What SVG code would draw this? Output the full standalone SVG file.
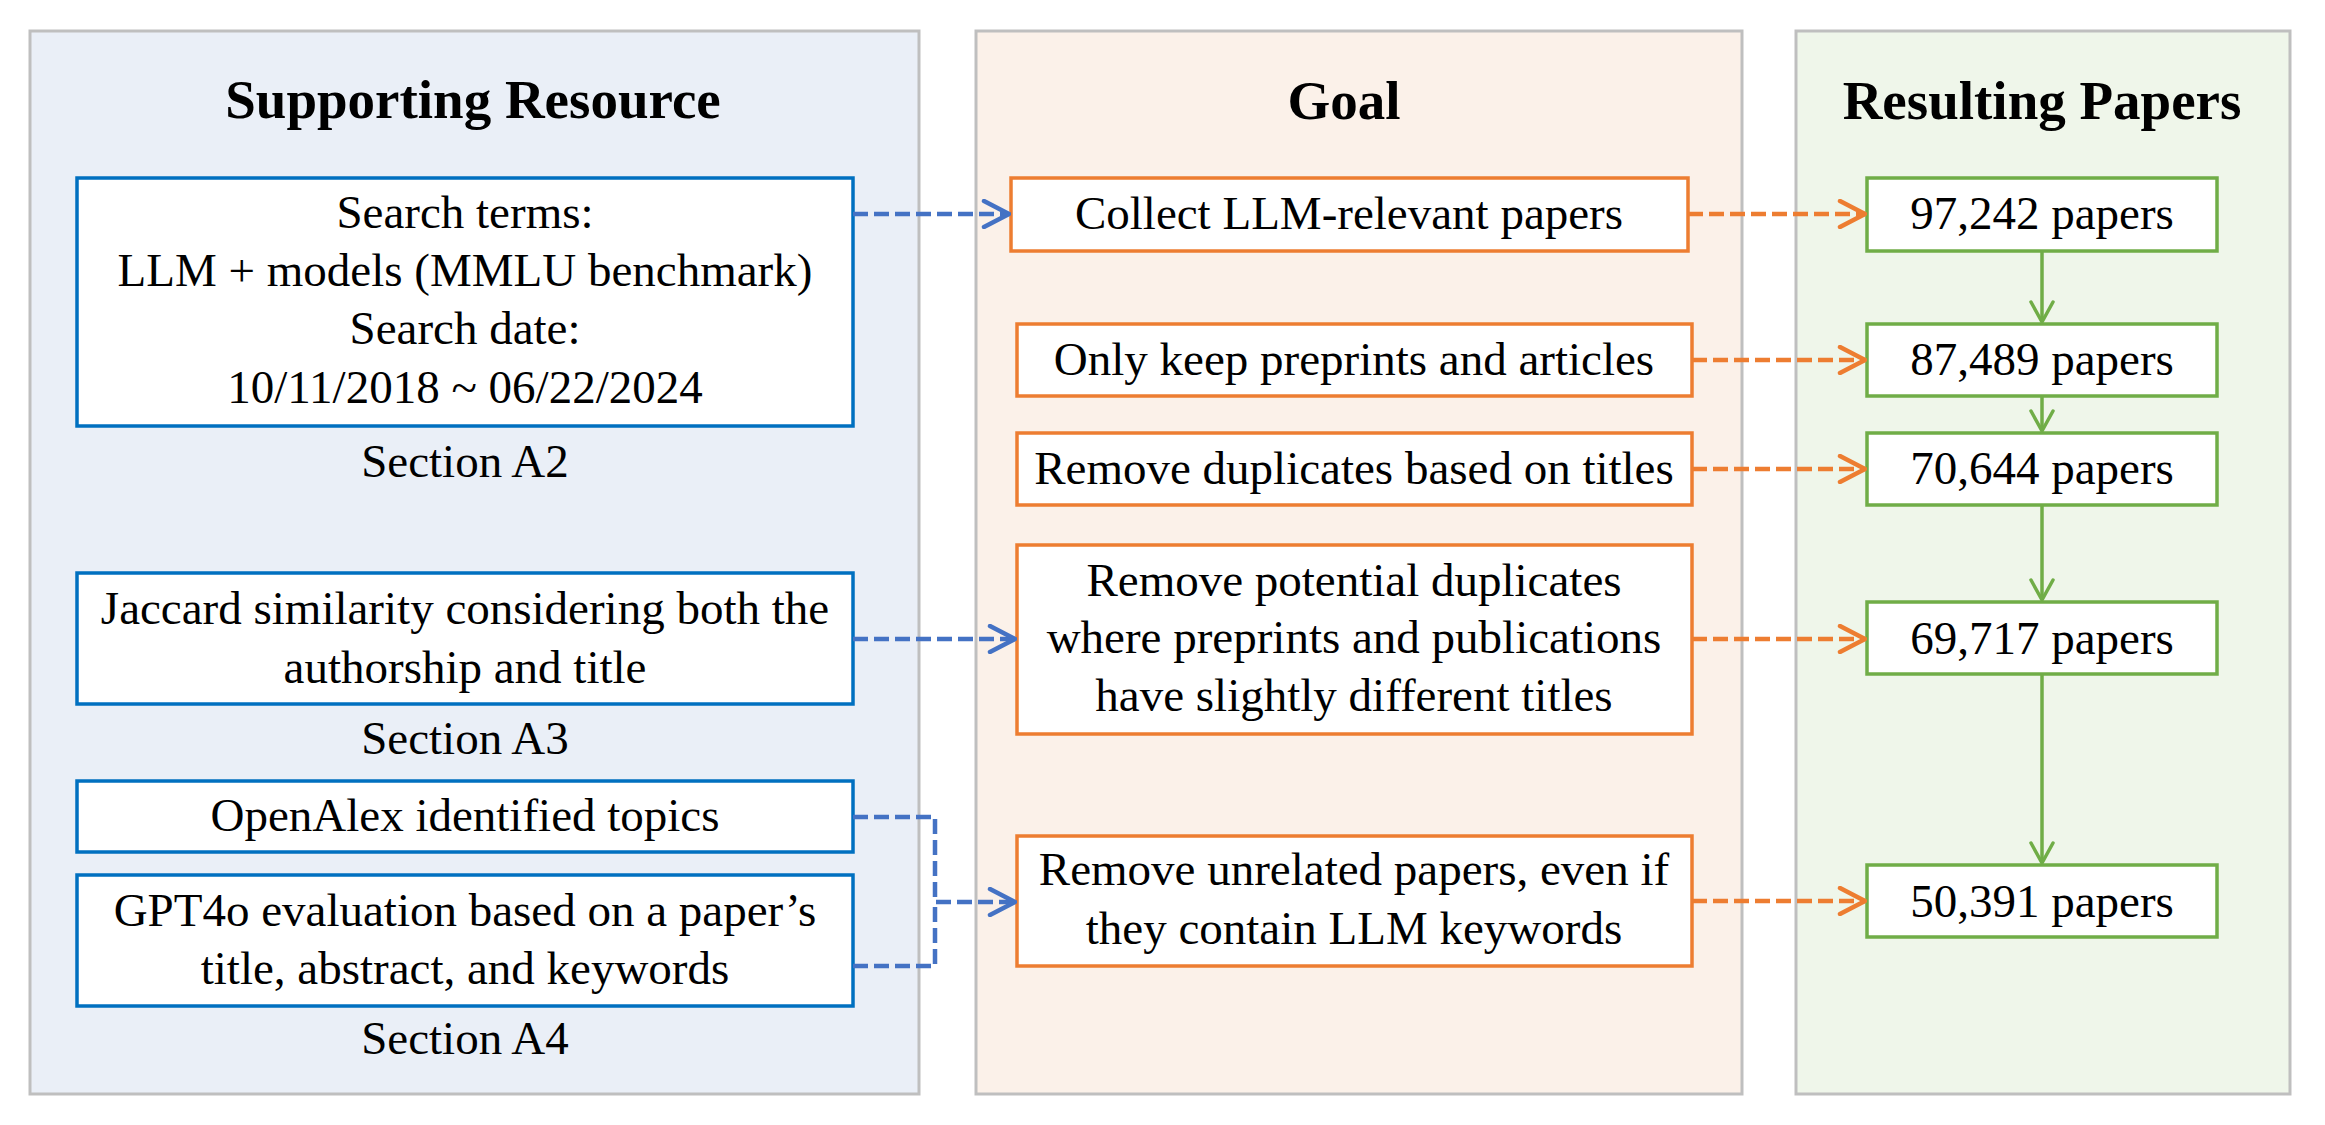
<svg xmlns="http://www.w3.org/2000/svg" width="2325" height="1125" viewBox="0 0 2325 1125">
<style>
.panel{stroke:#BFBFBF;stroke-width:3}
.hdr{font-family:"Liberation Serif","Times New Roman",serif;font-weight:bold;font-size:55px;fill:#000;text-anchor:middle}
.t{font-family:"Liberation Serif","Times New Roman",serif;font-size:47px;fill:#000;text-anchor:middle}
.bb{fill:#fff;stroke:#0070C0;stroke-width:3.5}
.ob{fill:#fff;stroke:#ED7D31;stroke-width:3.5}
.gb{fill:#fff;stroke:#70AD47;stroke-width:3.5}
.bl{fill:none;stroke:#4472C4;stroke-width:4.5;stroke-dasharray:15 6}
.ol{fill:none;stroke:#ED7D31;stroke-width:4.5;stroke-dasharray:15 6}
.gl{fill:none;stroke:#70AD47;stroke-width:3.5}
</style>
<defs>
<marker id="ab" markerUnits="userSpaceOnUse" viewBox="0 0 30 30" refX="28" refY="15" markerWidth="30" markerHeight="30" orient="auto">
<path d="M3,2 L28,15 L3,28" fill="none" stroke="#4472C4" stroke-width="4.5" stroke-linecap="round" stroke-linejoin="round"/>
</marker>
<marker id="ao" markerUnits="userSpaceOnUse" viewBox="0 0 30 30" refX="28" refY="15" markerWidth="30" markerHeight="30" orient="auto">
<path d="M3,2 L28,15 L3,28" fill="none" stroke="#ED7D31" stroke-width="4.5" stroke-linecap="round" stroke-linejoin="round"/>
</marker>
<marker id="ag" markerUnits="userSpaceOnUse" viewBox="0 0 24 26" refX="22" refY="13" markerWidth="24" markerHeight="26" orient="auto">
<path d="M2,2 L22,13 L2,24" fill="none" stroke="#70AD47" stroke-width="3.5" stroke-linecap="round" stroke-linejoin="round"/>
</marker>
</defs>
<rect width="2325" height="1125" fill="#fff"/>
<g id="panel-support">
<rect class="panel" x="30" y="31" width="889" height="1063" fill="#EAEFF7"/>
<text class="hdr" x="473" y="118">Supporting Resource</text>
</g>
<g id="panel-goal">
<rect class="panel" x="976" y="31" width="766" height="1063" fill="#FBF1E9"/>
<text class="hdr" x="1344" y="119">Goal</text>
</g>
<g id="panel-result">
<rect class="panel" x="1796" y="31" width="494" height="1063" fill="#EFF6EA"/>
<text class="hdr" x="2042" y="119">Resulting Papers</text>
</g>
<g id="s1">
<rect class="bb" x="77" y="178" width="776" height="248"/>
<text class="t" x="465" y="228">Search terms:</text>
<text class="t" x="465" y="286">LLM + models (MMLU benchmark)</text>
<text class="t" x="465" y="344">Search date:</text>
<text class="t" x="465" y="403">10/11/2018 ~ 06/22/2024</text>
</g>
<g id="secA2"><text class="t" x="465" y="477">Section A2</text></g>
<g id="s2">
<rect class="bb" x="77" y="573" width="776" height="131"/>
<text class="t" x="465" y="624">Jaccard similarity considering both the</text>
<text class="t" x="465" y="683">authorship and title</text>
</g>
<g id="secA3"><text class="t" x="465" y="754">Section A3</text></g>
<g id="s3">
<rect class="bb" x="77" y="781" width="776" height="71"/>
<text class="t" x="465" y="831">OpenAlex identified topics</text>
</g>
<g id="s4">
<rect class="bb" x="77" y="875" width="776" height="131"/>
<text class="t" x="465" y="926">GPT4o evaluation based on a paper’s</text>
<text class="t" x="465" y="984">title, abstract, and keywords</text>
</g>
<g id="secA4"><text class="t" x="465" y="1054">Section A4</text></g>
<g id="g1">
<rect class="ob" x="1011" y="178" width="677" height="73"/>
<text class="t" x="1349" y="229">Collect LLM-relevant papers</text>
</g>
<g id="g2">
<rect class="ob" x="1017" y="324" width="675" height="72"/>
<text class="t" x="1354" y="375">Only keep preprints and articles</text>
</g>
<g id="g3">
<rect class="ob" x="1017" y="433" width="675" height="72"/>
<text class="t" x="1354" y="484">Remove duplicates based on titles</text>
</g>
<g id="g4">
<rect class="ob" x="1017" y="545" width="675" height="189"/>
<text class="t" x="1354" y="596">Remove potential duplicates</text>
<text class="t" x="1354" y="653">where preprints and publications</text>
<text class="t" x="1354" y="711">have slightly different titles</text>
</g>
<g id="g5">
<rect class="ob" x="1017" y="836" width="675" height="130"/>
<text class="t" x="1354" y="885">Remove unrelated papers, even if</text>
<text class="t" x="1354" y="944">they contain LLM keywords</text>
</g>
<g id="r1">
<rect class="gb" x="1867" y="178" width="350" height="73"/>
<text class="t" x="2042" y="229">97,242 papers</text>
</g>
<g id="r2">
<rect class="gb" x="1867" y="324" width="350" height="72"/>
<text class="t" x="2042" y="375">87,489 papers</text>
</g>
<g id="r3">
<rect class="gb" x="1867" y="433" width="350" height="72"/>
<text class="t" x="2042" y="484">70,644 papers</text>
</g>
<g id="r4">
<rect class="gb" x="1867" y="602" width="350" height="72"/>
<text class="t" x="2042" y="654">69,717 papers</text>
</g>
<g id="r5">
<rect class="gb" x="1867" y="865" width="350" height="72"/>
<text class="t" x="2042" y="917">50,391 papers</text>
</g>
<g id="connectors">
<path class="bl" d="M853,214 H1009" marker-end="url(#ab)"/>
<path class="bl" d="M853,639 H1015" marker-end="url(#ab)"/>
<path class="bl" d="M853,817 H935 V902 H1015" marker-end="url(#ab)"/>
<path class="bl" d="M853,966 H935 V902"/>
<path class="ol" d="M1688,214 H1865" marker-end="url(#ao)"/>
<path class="ol" d="M1692,360 H1865" marker-end="url(#ao)"/>
<path class="ol" d="M1692,469 H1865" marker-end="url(#ao)"/>
<path class="ol" d="M1692,639 H1865" marker-end="url(#ao)"/>
<path class="ol" d="M1692,901 H1865" marker-end="url(#ao)"/>
<path class="gl" d="M2042,251 V322" marker-end="url(#ag)"/>
<path class="gl" d="M2042,396 V431" marker-end="url(#ag)"/>
<path class="gl" d="M2042,505 V600" marker-end="url(#ag)"/>
<path class="gl" d="M2042,674 V863" marker-end="url(#ag)"/>
</g>
</svg>
